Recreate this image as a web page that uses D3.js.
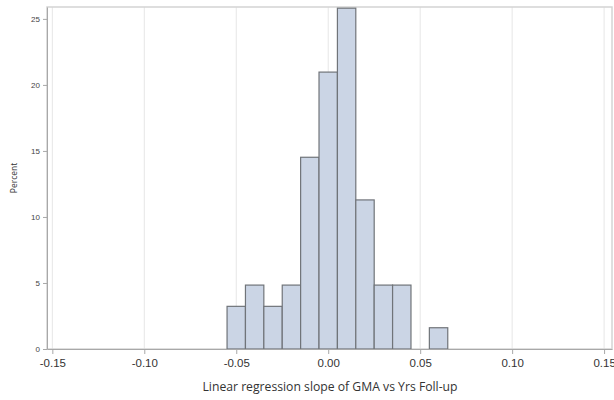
<!DOCTYPE html>
<html>
<head>
<meta charset="utf-8">
<script src="https://cdn.jsdelivr.net/npm/d3@7"></script>
<style>
  body { margin: 0; background: #fff; }
  svg { font-family: "Open Sans", "Noto Sans", sans-serif; }
</style>
</head>
<body>
<div class="chartsWrapper"></div>
<script>
// bin midpoints (width 0.01) and percent per bin
var binMids = [-0.06, -0.05, -0.04, -0.03, -0.02, -0.01, 0.00, 0.01, 0.02, 0.03, 0.04, 0.05, 0.06];
var percents = [0, 3.23, 4.84, 3.23, 4.84, 14.52, 20.97, 25.81, 11.29, 4.84, 4.84, 0, 1.61];
var binWidth = 0.01;
var xTicks = [-0.15, -0.10, -0.05, 0.00, 0.05, 0.10, 0.15];
var yTicks = [0, 5, 10, 15, 20, 25];

var width = 614, height = 400;
var margin = {left: 47, right: 2, top: 7, bottom: 51};

var svg = d3.select('.chartsWrapper').append('svg')
    .attr('width', width)
    .attr('height', height);

var x = d3.scaleLinear().domain([-0.1529, 0.1543]).range([margin.left, width - margin.right]);
var y = d3.scaleLinear().domain([0, 25.9]).range([height - margin.bottom, margin.top]);

// grid
svg.selectAll('.grid').data(xTicks).enter().append('line')
    .attr('x1', d => x(d)).attr('x2', d => x(d))
    .attr('y1', y(0)).attr('y2', margin.top)
    .attr('stroke', '#e6e6e6').attr('stroke-width', 1);

// frame
svg.append('rect')
    .attr('x', margin.left).attr('y', margin.top)
    .attr('width', width - margin.right - margin.left)
    .attr('height', y(0) - margin.top)
    .attr('fill', 'none').attr('stroke', '#d4d4d4').attr('stroke-width', 1.5);

// bars
svg.selectAll('.bar').data(binMids).enter().append('rect')
    .attr('class', 'bar')
    .attr('x', d => x(d - binWidth / 2))
    .attr('width', d => x(d + binWidth / 2) - x(d - binWidth / 2))
    .attr('y', (d, i) => y(percents[i]))
    .attr('height', (d, i) => y(0) - y(percents[i]))
    .attr('fill', '#cbd5e5')
    .attr('stroke', '#707479').attr('stroke-width', 1.2);

// x axis
var fmt = d3.format('.2f');
var xAxis = svg.append('g')
    .attr('transform', 'translate(0,' + y(0) + ')')
    .call(d3.axisBottom(x).tickValues(xTicks)
        .tickFormat(d => fmt(d).replace('\u2212', '-'))
        .tickSize(5).tickPadding(5).tickSizeOuter(0));
xAxis.select('.domain').attr('stroke', '#a8a8a8');
xAxis.selectAll('.tick line').attr('stroke', '#a8a8a8');
xAxis.selectAll('.tick text').attr('font-size', 11.5).attr('fill', '#333');

// y axis
var yAxis = svg.append('g')
    .attr('transform', 'translate(' + margin.left + ',0)')
    .call(d3.axisLeft(y).tickValues(yTicks).tickSize(4).tickPadding(3).tickSizeOuter(0));
yAxis.select('.domain').attr('stroke', '#a8a8a8');
yAxis.selectAll('.tick line').attr('stroke', '#a8a8a8');
yAxis.selectAll('.tick text').attr('font-size', 8).attr('fill', '#444');

// labels
svg.append('text')
    .attr('x', 330)
    .attr('y', 391)
    .attr('text-anchor', 'middle')
    .attr('font-size', 12.2).attr('fill', '#333')
    .text('Linear regression slope of GMA vs Yrs Foll-up');

svg.append('text')
    .attr('transform', 'translate(17,' + (margin.top + y(0)) / 2 + ') rotate(-90)')
    .attr('text-anchor', 'middle')
    .attr('font-size', 8.5).attr('fill', '#333')
    .text('Percent');
</script>
</body>
</html>
